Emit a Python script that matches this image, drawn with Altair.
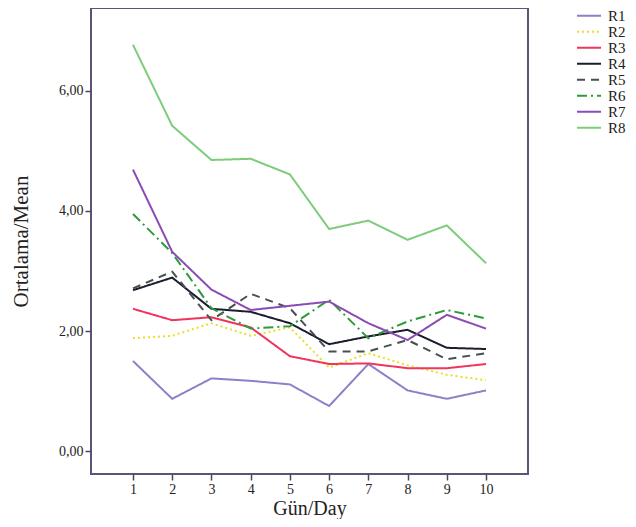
import altair as alt
import pandas as pd

days = list(range(1, 11))
series = ["R1", "R2", "R3", "R4", "R5", "R6", "R7", "R8"]
R1 = [1.50, 0.87, 1.21, 1.17, 1.11, 0.75, 1.45, 1.01, 0.87, 1.01]
R2 = [1.88, 1.92, 2.13, 1.92, 2.06, 1.39, 1.63, 1.43, 1.27, 1.18]
R3 = [2.37, 2.18, 2.23, 2.06, 1.58, 1.45, 1.46, 1.38, 1.38, 1.45]
R4 = [2.68, 2.89, 2.37, 2.32, 2.13, 1.78, 1.91, 2.02, 1.72, 1.70]
R5 = [2.71, 2.99, 2.18, 2.62, 2.38, 1.66, 1.66, 1.85, 1.53, 1.63]
R6 = [3.95, 3.30, 2.38, 2.04, 2.08, 2.52, 1.88, 2.16, 2.35, 2.21]
R7 = [4.69, 3.32, 2.69, 2.35, 2.42, 2.49, 2.13, 1.85, 2.27, 2.04]
R8 = [6.77, 5.42, 4.85, 4.87, 4.61, 3.70, 3.84, 3.52, 3.76, 3.13]
values = [R1, R2, R3, R4, R5, R6, R7, R8]

colors = ["#8f7fc8", "#e8e020", "#f0345c", "#1c1c30", "#46504e", "#2e9a3a", "#8a4cb4", "#7dcc7a"]
dashes = [[1, 0], [2, 3], [1, 0], [1, 0], [8, 6], [10, 4, 2, 4], [1, 0], [1, 0]]

rows = []
for s, vals in zip(series, values):
    for d, v in zip(days, vals):
        rows.append({"Day": d, "Mean": v, "Series": s})
df = pd.DataFrame(rows)

font = "Liberation Serif"

legend = alt.Legend(
    title=None, orient="none", legendX=485, legendY=0,
    symbolType="stroke", symbolSize=576, symbolStrokeWidth=2,
    labelFont=font, labelFontSize=15, labelColor="#222222",
    clipHeight=15.4, rowPadding=0, padding=0, labelOffset=6,
)

chart = alt.Chart(df).mark_line(strokeWidth=2).encode(
    x=alt.X("Day:Q", scale=alt.Scale(domain=[-0.07, 11.07], nice=False, zero=False),
            axis=alt.Axis(values=days, title="Gün/Day", grid=False, tickSize=6,
                          labelFont=font, labelFontSize=14, labelColor="#222222",
                          titleFont=font, titleFontSize=20, titleFontWeight="normal",
                          titleColor="#222222", titlePadding=2,
                          domain=False, tickColor="#4a4560", tickWidth=1.5)),
    y=alt.Y("Mean:Q", scale=alt.Scale(domain=[-0.383, 7.383], nice=False, zero=False),
            axis=alt.Axis(values=[0, 2, 4, 6], title="Ortalama/Mean", grid=False, tickSize=6,
                          labelExpr="replace(format(datum.value, '.2f'), '.', ',')",
                          labelFont=font, labelFontSize=14, labelColor="#222222",
                          titleFont=font, titleFontSize=21, titleFontWeight="normal",
                          titleColor="#222222", titlePadding=27,
                          domain=False, tickColor="#4a4560", tickWidth=1.5)),
    color=alt.Color("Series:N", scale=alt.Scale(domain=series, range=colors), legend=legend),
    strokeDash=alt.StrokeDash("Series:N", scale=alt.Scale(domain=series, range=dashes), legend=legend),
).properties(
    width=437, height=466,
    autosize=alt.AutoSizeParams(type="none"),
    padding={"left": 83, "top": 0, "right": 99, "bottom": 45},
).configure(
    background="white",
    view=alt.ViewConfig(stroke="#5a5478", strokeWidth=2),
)

chart.save("out.html", embed_options={"renderer": "svg", "actions": False})
